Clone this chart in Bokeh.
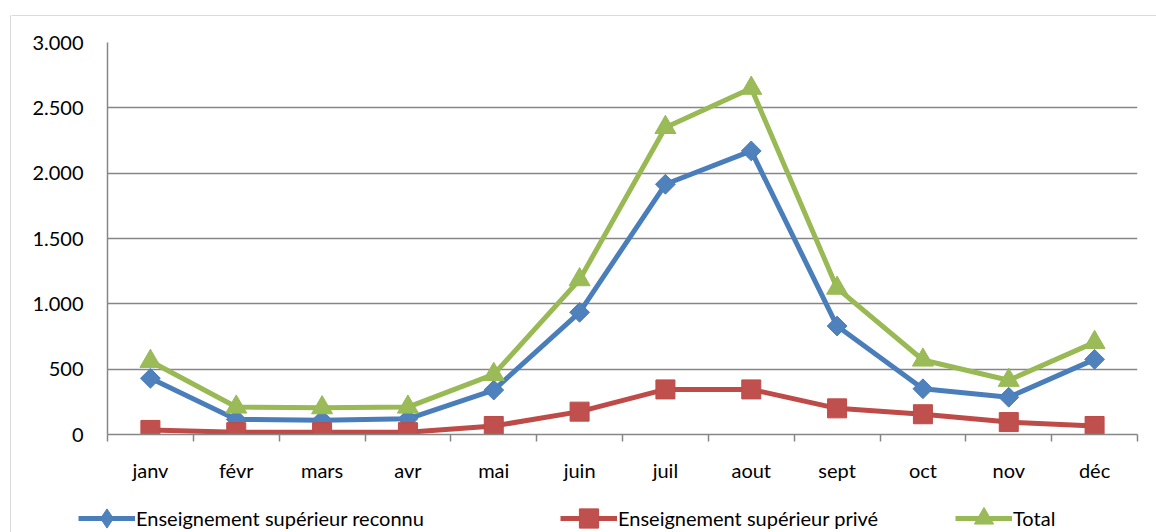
import math
from bokeh.plotting import figure
from bokeh.layouts import row, column
from bokeh.models import Range1d, FixedTicker, Legend, LegendItem, ColumnDataSource
from bokeh.embed import file_html
from bokeh.resources import INLINE

months = ["janv", "févr", "mars", "avr", "mai", "juin", "juil", "aout", "sept", "oct", "nov", "déc"]
reconnu = [430, 115, 110, 120, 340, 935, 1915, 2170, 830, 350, 285, 575]
prive = [35, 18, 18, 18, 65, 175, 345, 345, 200, 155, 95, 65]
total = [560, 210, 205, 210, 460, 1185, 2350, 2650, 1120, 570, 415, 705]
y_ticks = [0, 500, 1000, 1500, 2000, 2500, 3000]
y_labels = ["0", "500", "1.000", "1.500", "2.000", "2.500", "3.000"]
series_names = ["Enseignement supérieur reconnu", "Enseignement supérieur privé", "Total"]

FONT = "Lato"
FS = "20px"
GRID = "#868686"
FRAME = "#b4b4b4"

xs = [i + 0.5 for i in range(len(months))]
src = ColumnDataSource(dict(x=xs, reconnu=reconnu, prive=prive, total=total))


def bare(width, height, xr, yr):
    f = figure(width=width, height=height, output_backend="svg", toolbar_location=None,
               x_range=xr, y_range=yr, x_axis_type=None, y_axis_type=None,
               min_border_left=0, min_border_right=0, min_border_top=0, min_border_bottom=0)
    f.outline_line_color = None
    f.xgrid.visible = False
    f.ygrid.visible = False
    f.frame_align = False
    return f


W = 1145
p = figure(width=W, height=490, output_backend="svg", toolbar_location=None,
           x_range=Range1d(0, len(months)), y_range=Range1d(0, 3000),
           min_border_left=96, min_border_right=19, min_border_top=26, min_border_bottom=72)
p.outline_line_color = None
p.frame_align = False

xa = p.xaxis[0]
xa.ticker = FixedTicker(ticks=xs, minor_ticks=list(range(len(months) + 1)))
xa.major_label_overrides = {x: m for x, m in zip(xs, months)}
xa.major_tick_out = 0
xa.major_tick_in = 0
xa.minor_tick_out = 7
xa.minor_tick_in = 0
xa.minor_tick_line_color = GRID
xa.minor_tick_line_width = 1.5
xa.axis_line_color = GRID
xa.axis_line_width = 1.5
xa.major_label_text_font = FONT
xa.major_label_text_font_size = FS
xa.major_label_text_color = "black"
xa.major_label_standoff = 16

ya = p.yaxis[0]
ya.ticker = FixedTicker(ticks=y_ticks, minor_ticks=[])
ya.major_label_overrides = {t: l for t, l in zip(y_ticks, y_labels)}
ya.major_tick_out = 0
ya.major_tick_in = 0
ya.minor_tick_out = 0
ya.minor_tick_in = 0
ya.axis_line_color = GRID
ya.axis_line_width = 1.5
ya.major_label_text_font = FONT
ya.major_label_text_font_size = FS
ya.major_label_text_color = "black"
ya.major_label_standoff = 24

p.xgrid.visible = False
p.ygrid.ticker = FixedTicker(ticks=y_ticks)
p.ygrid.grid_line_color = GRID
p.ygrid.grid_line_width = 1.5

# (column, line colour, fill colour, chart marker, size, angle, legend marker)
specs = [
    ("reconnu", "#4A7EBB", "#4F81BD", "square", 14, math.pi / 4, "diamond"),
    ("prive", "#BE4B48", "#C0504D", "square", 19, 0, "square"),
    ("total", "#98B954", "#9BBB59", "triangle", 21, 0, "triangle"),
]
for col, lc, fc, mk, sz, ang, lmk in specs:
    p.line("x", col, source=src, line_color=lc, line_width=5, line_join="round")
    p.scatter("x", col, source=src, marker=mk, size=sz, angle=ang,
              fill_color=fc, line_color=lc, line_width=1)

# legend strip (legend proxies sit outside the visible range)
p2 = bare(W, 26, Range1d(0, 1), Range1d(0, 1))
leg_x = [67, 549, 944]
for (col, lc, fc, mk, sz, ang, lmk), name, lx in zip(specs, series_names, leg_x):
    l = p2.line(x=[-5, -4], y=[-5, -5], line_color=lc, line_width=5)
    s = p2.scatter(x=[-5], y=[-5], marker=lmk, size=sz,
                   fill_color=fc, line_color=lc, line_width=1)
    lg = Legend(items=[LegendItem(label=name, renderers=[l, s])],
                location=(lx, -10), orientation="horizontal",
                glyph_width=57, glyph_height=48, label_standoff=1,
                padding=0, margin=0, spacing=0,
                border_line_color=None, background_fill_alpha=0,
                label_text_font=FONT, label_text_font_size=FS, label_text_color="black")
    p2.add_layout(lg, "center")

# outer chart frame (top and left edges)
top = bare(W, 16, Range1d(0, W), Range1d(16, 0))
top.segment(x0=[0], y0=[15.5], x1=[W], y1=[15.5], line_color=FRAME, line_width=1)

left = bare(11, 532, Range1d(0, 11), Range1d(532, 0))
left.segment(x0=[10.5, 10], y0=[15, 15.5], x1=[10.5, 11], y1=[532, 15.5], line_color=FRAME, line_width=1)

layout = row(left, column(top, p, p2))
open("out.html", "w").write(file_html(layout, INLINE))
